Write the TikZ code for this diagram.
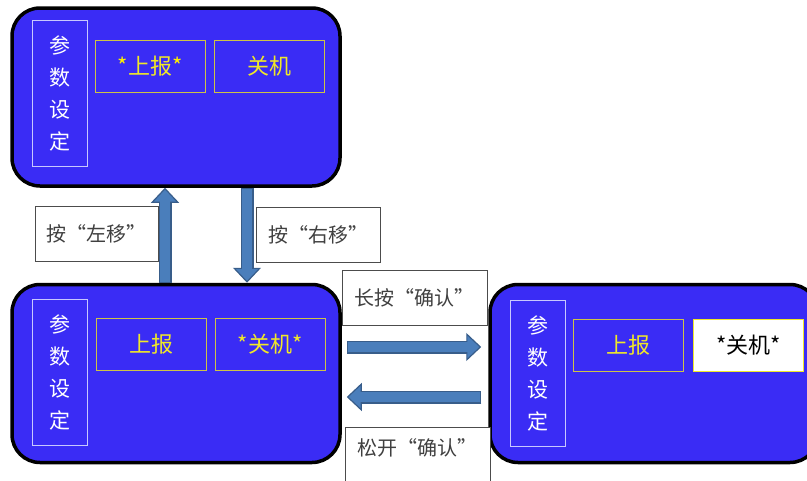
\documentclass[tikz,border=0pt]{standalone}
\usepackage{fontspec}
\newfontfamily\cjk{Noto Sans CJK SC}
\usetikzlibrary{arrows.meta}

\definecolor{panelblue}{RGB}{58,44,245}
\definecolor{btnyellow}{RGB}{205,195,70}
\definecolor{txtyellow}{RGB}{240,232,40}
\definecolor{arrowfill}{RGB}{74,126,187}
\definecolor{arrowline}{RGB}{56,93,138}

\begin{document}
\begin{tikzpicture}[
    x=1pt, y=-1pt,
    panel/.style={
        rectangle,
        rounded corners=28pt,
        minimum width=328pt,
        minimum height=178pt,
        draw=black,
        line width=3.5pt,
        fill=panelblue
    },
    vbox/.style={
        rectangle,
        minimum width=55pt,
        minimum height=146pt,
        draw={rgb,255:red,200;green,200;blue,255},
        line width=0.8pt,
        text=white,
        align=center,
        font=\cjk\fontsize{21}{32}\selectfont
    },
    btn/.style={
        rectangle,
        minimum width=110pt,
        minimum height=52pt,
        draw=btnyellow,
        line width=0.9pt,
        text=txtyellow,
        font=\cjk\fontsize{22}{24}\selectfont
    },
    btnsel/.style={btn, fill=white, draw=txtyellow, text=black},
    lbl/.style={
        rectangle,
        minimum width=123pt,
        minimum height=55pt,
        draw=black!70,
        line width=0.6pt,
        fill=white,
        text=black!75,
        font=\cjk\fontsize{20}{22}\selectfont
    },
    bigarrow/.style={
        draw=arrowline,
        line width=13pt,
        -{Triangle[width=28pt, length=15pt, fill=arrowfill, line width=1.2pt]},
        postaction={draw=arrowfill, line width=10.5pt, -, shorten >=13pt, shorten <=1pt}
    }
]

\useasboundingbox (0,0) rectangle (807,480);

% screens
\node[panel] (top) at (176,97) {};
\node[panel] (bl) at (176,373.5) {};
\node[panel] (rp) at (654,373.5) {};

% top screen
\node[vbox] (topset) at (59.5,93.5) {参\\数\\设\\定};
\node[btn] (toprep) at (150,66) {{\color{yellow}*}上报{\color{yellow}*}};
\node[btn] (topoff) at (269.5,66) {关机};

% bottom-left screen
\node[vbox] (blset) at (60,372.5) {参\\数\\设\\定};
\node[btn] (blrep) at (151,344.5) {上报};
\node[btn] (bloff) at (270,344.5) {*关机*};

% right screen
\node[vbox] (rpset) at (538,373.5) {参\\数\\设\\定};
\node[btn] (rprep) at (628,345) {上报};
\node[btnsel] (rpoff) at (748.5,345) {*关机*};

% transitions
\draw[bigarrow] ([xshift=-11pt]bl.north) -- ([xshift=-11pt]top.south);
\draw[bigarrow] ([xshift=71pt]top.south) -- ([xshift=71pt]bl.north);
\draw[bigarrow] ([xshift=5pt,yshift=26.5pt]bl.east) -- ([xshift=-7pt,yshift=26.5pt]rp.west);
\draw[bigarrow] ([xshift=-7pt,yshift=-23.5pt]rp.west) -- ([xshift=5pt,yshift=-23.5pt]bl.east);

% key labels
\node[lbl] (left) at (96.5,233.5) {按“左移”};
\node[lbl, minimum width=124pt] (right) at (318,235) {按“右移”};
\node[lbl, minimum width=145pt] (hold) at (414.5,297.5) {长按“确认”};
\node[lbl, minimum width=145pt, text depth=14pt] (release) at (417.5,454.5) {松开“确认”};

\end{tikzpicture}
\end{document}
